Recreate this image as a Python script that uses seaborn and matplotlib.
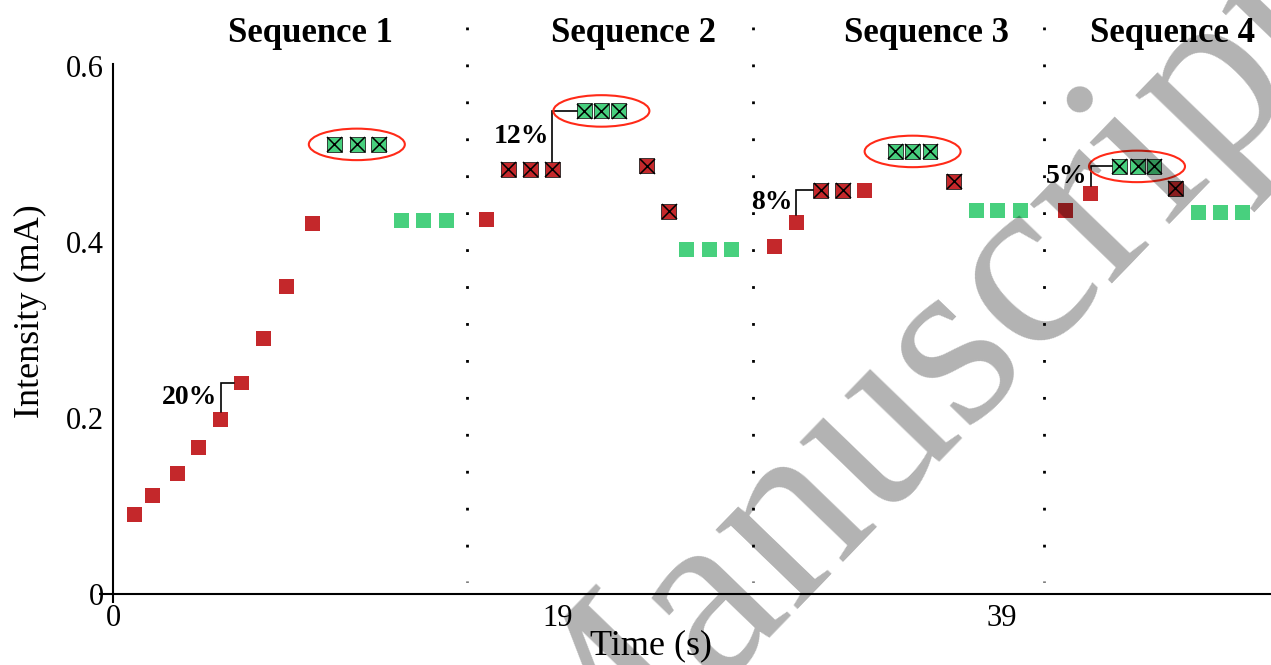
import numpy as np
import pandas as pd
import matplotlib
matplotlib.use("Agg")
import matplotlib.pyplot as plt
import seaborn as sns
from matplotlib.patches import Ellipse

# ---------------- data ----------------
# plain red squares
red_x = [0.96, 1.77, 2.89, 3.84, 4.83, 5.77, 6.77, 7.80, 8.97,
         16.81, 29.78, 30.77, 33.84, 42.89, 44.02]
red_y = [0.091, 0.112, 0.137, 0.167, 0.199, 0.240, 0.291, 0.350, 0.421,
         0.426, 0.395, 0.4225, 0.459, 0.436, 0.455]
# red squares with a cross
redx_x = [17.80, 18.78, 19.78, 24.02, 25.01, 31.87, 32.85, 37.85, 47.83]
redx_y = [0.483, 0.483, 0.483, 0.487, 0.435, 0.459, 0.459, 0.469, 0.461]
# green squares with a cross (circled), one triple per sequence
grnx_seq = [1, 1, 1, 2, 2, 2, 3, 3, 3, 4, 4, 4]
grnx_x = [9.96, 11.0, 11.95, 21.21, 21.99, 22.76, 35.23, 36.0, 36.79, 45.32, 46.14, 46.88]
grnx_y = [0.511, 0.511, 0.511, 0.549, 0.549, 0.549, 0.503, 0.503, 0.503, 0.486, 0.486, 0.486]
# plain green squares
grn_x = [12.98, 13.97, 15.01, 25.82, 26.86, 27.85, 38.88, 39.83, 40.86, 48.88, 49.87, 50.86]
grn_y = [0.425, 0.425, 0.425, 0.392, 0.392, 0.392, 0.436, 0.436, 0.436, 0.434, 0.434, 0.434]

separator_x = [15.93, 28.81, 41.92]
seq_titles = ["Sequence 1", "Sequence 2", "Sequence 3", "Sequence 4"]
seq_title_x = [8.90, 23.45, 36.65, 47.73]

ann_labels = ["20%", "12%", "8%", "5%"]
ann_from_x = [4.83, 19.78, 30.77, 44.02]
ann_from_y = [0.199, 0.483, 0.4225, 0.455]
ann_to_x = [5.77, 21.21, 31.87, 45.32]
ann_to_y = [0.240, 0.549, 0.459, 0.486]

xtick_pos = [0, 20, 40]
xtick_labels = ["0", "19", "39"]
ytick_pos = [0, 0.2, 0.4, 0.6]
ytick_labels = ["0", "0.2", "0.4", "0.6"]

# ---------------- style ----------------
sns.set_theme(style="white")
plt.rcParams["font.family"] = ["Liberation Serif", "DejaVu Serif"]
plt.rcParams["text.color"] = "black"
plt.rcParams["axes.labelcolor"] = "black"
plt.rcParams["xtick.color"] = "black"
plt.rcParams["ytick.color"] = "black"

RED = "#C4282B"
GREEN = "#48D07E"
ELL = "#FF2A18"

W, H = 1271, 665
fig = plt.figure(figsize=(W / 100, H / 100), dpi=100)
ax = fig.add_axes([113.3 / W, 70.7 / H, 1157.7 / W, 530.3 / H])
ax.set_xlim(0, 52.15)
ax.set_ylim(0, 0.6023)

df = pd.concat([
    pd.DataFrame({"x": red_x, "y": red_y, "kind": "red", "cross": False}),
    pd.DataFrame({"x": redx_x, "y": redx_y, "kind": "red", "cross": True}),
    pd.DataFrame({"x": grnx_x, "y": grnx_y, "kind": "green", "cross": True}),
    pd.DataFrame({"x": grn_x, "y": grn_y, "kind": "green", "cross": False}),
], ignore_index=True)

MS = 116  # marker area (pt^2) -> ~15 px side
pal = {"red": RED, "green": GREEN}
sns.scatterplot(data=df[~df["cross"]], x="x", y="y", hue="kind", palette=pal,
                marker="s", s=MS, linewidth=0, legend=False, ax=ax, zorder=3)
sns.scatterplot(data=df[df["cross"]], x="x", y="y", hue="kind", palette=pal,
                marker="s", s=MS, linewidth=0.6, edgecolor="#222222",
                legend=False, ax=ax, zorder=3)
sns.scatterplot(data=df[df["cross"]], x="x", y="y", marker="x", s=MS,
                color="black", linewidth=1.1, legend=False, ax=ax, zorder=4)

# ellipses around the circled triples
px_x = 1157.7 / 52.15   # px per x unit
px_y = 530.3 / 0.6023   # px per y unit
gx = pd.DataFrame({"seq": grnx_seq, "x": grnx_x, "y": grnx_y})
for s, g in gx.groupby("seq"):
    ax.add_patch(Ellipse((g["x"].mean(), g["y"].mean()), width=96 / px_x,
                         height=31.5 / px_y, fill=False, edgecolor=ELL,
                         linewidth=1.5, zorder=5))

# dotted sequence separators
for sx in separator_x:
    ax.plot([sx, sx], [0.6445, 0.0145], color="black", linewidth=2.0,
            linestyle=(0, (1, 12.3)), solid_capstyle="butt",
            dash_capstyle="butt", clip_on=False, zorder=2)

# sequence titles
for t, tx in zip(seq_titles, seq_title_x):
    ax.text(tx, 0.6365, t, ha="center", va="center", fontsize=25,
            fontweight="bold", color="black", clip_on=False)

# percentage brackets
hw = 7.5 / px_x
hh = 7.5 / px_y
for lab, fx, fy, tx, ty in zip(ann_labels, ann_from_x, ann_from_y, ann_to_x, ann_to_y):
    ax.plot([fx, fx, tx - hw], [fy + hh, ty, ty], color="black",
            linewidth=1.2, zorder=4, solid_joinstyle="miter")
    ax.text(fx - 0.15, (fy + hh + ty) / 2, lab, ha="right", va="center",
            fontsize=20, fontweight="bold", color="black", zorder=4)

# axes styling
for side in ["top", "right"]:
    ax.spines[side].set_visible(False)
for side in ["left", "bottom"]:
    ax.spines[side].set_color("black")
    ax.spines[side].set_linewidth(1.5)

ax.set_xticks(xtick_pos)
ax.set_xticklabels(xtick_labels)
ax.set_yticks(ytick_pos)
ax.set_yticklabels(ytick_labels)
ax.xaxis.remove_overlapping_locs = False
ax.yaxis.remove_overlapping_locs = False
ax.set_xticks([0], minor=True)
ax.set_yticks([0], minor=True)
ax.tick_params(axis="both", which="major", length=0, labelsize=22,
               colors="black", left=True, bottom=True)
ax.tick_params(axis="x", which="major", pad=7)
ax.tick_params(axis="y", which="major", pad=7)
ax.tick_params(axis="x", which="minor", length=6.5, width=1.5, bottom=True,
               direction="out", color="black")
ax.tick_params(axis="y", which="minor", length=10, width=1.5, left=True,
               direction="out", color="black")

ax.set_xlabel("Time (s)", fontsize=26, color="black")
ax.set_ylabel("Intensity (mA)", fontsize=26, color="black")
ax.xaxis.label.set_va("center")
ax.xaxis.set_label_coords((651 - 113.3) / 1157.7, -(646 - 594.3) / 530.3)
ax.yaxis.label.set_va("center")
ax.yaxis.set_label_coords((30 - 113.3) / 1157.7, (594.3 - 311) / 530.3)

# watermark of the source page (partly outside the page, as in the reference)
fig.text(912 / W, 1 - 398 / H, "Manuscript", fontsize=178, rotation=46,
         ha="center", va="center", rotation_mode="anchor",
         color="black", alpha=0.3, zorder=10)

fig.savefig("out.png", dpi=100)
